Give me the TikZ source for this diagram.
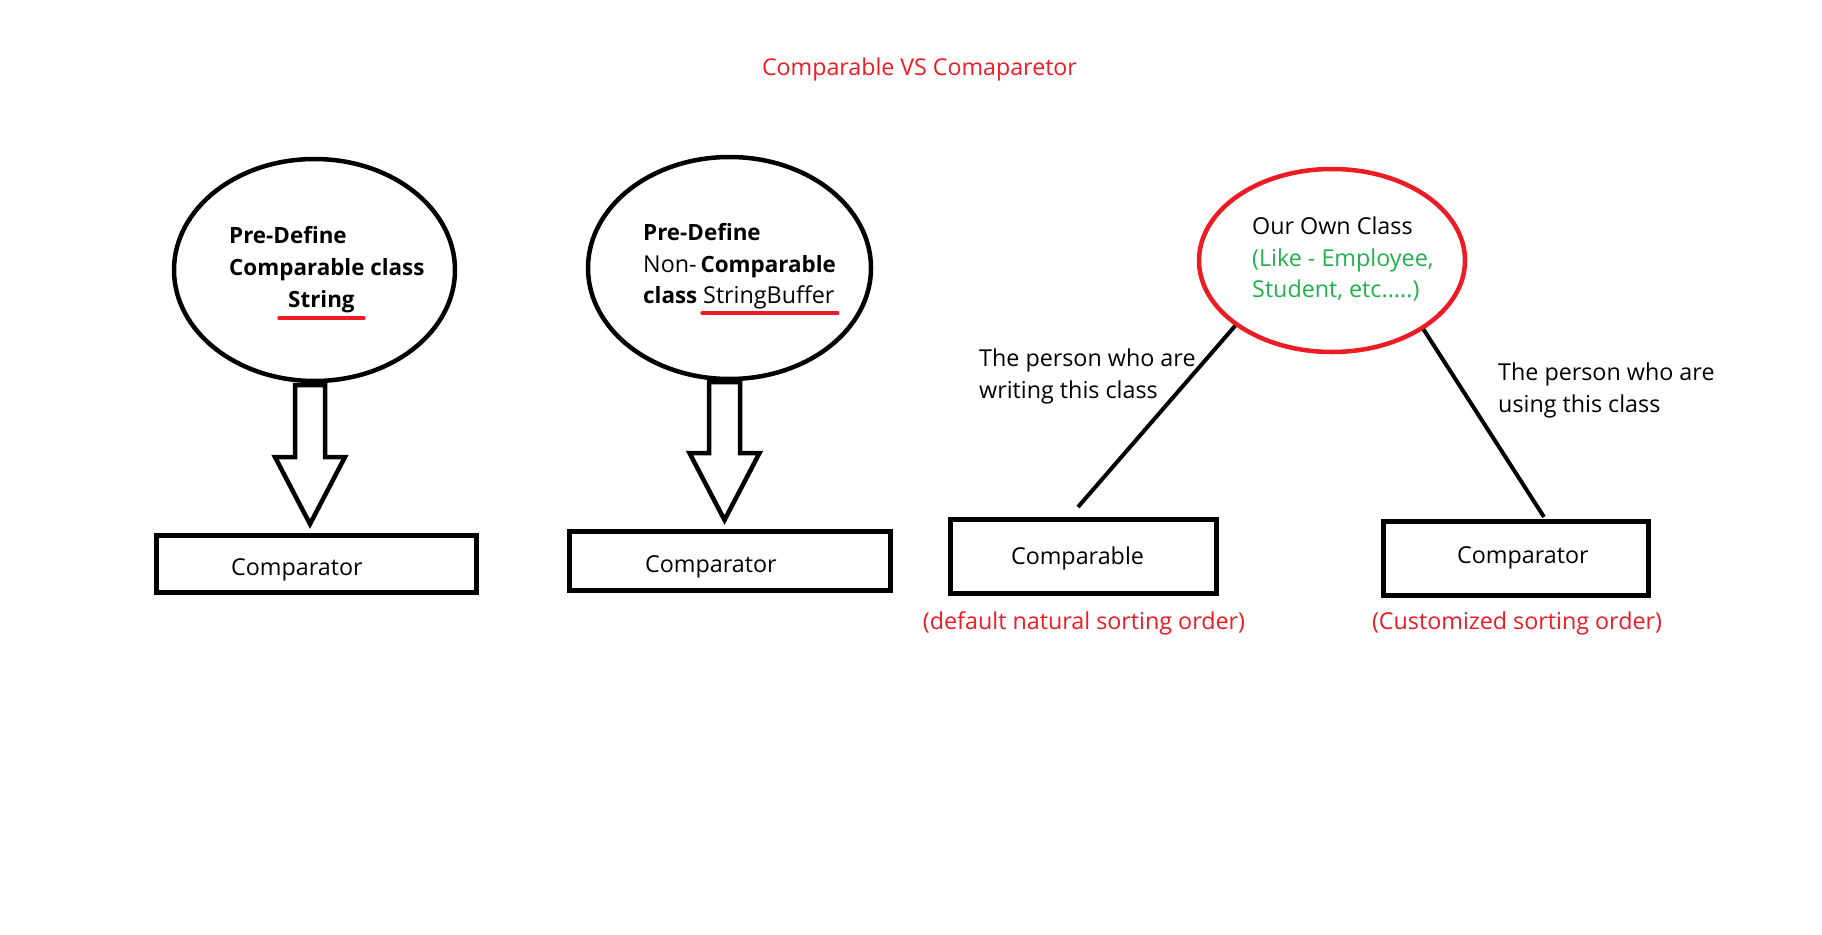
\documentclass[tikz,border=0pt]{standalone}
\usepackage{fontspec}
\setmainfont{Open Sans}
\usetikzlibrary{shapes.geometric,calc}
\definecolor{pred}{HTML}{ED1C24}
\definecolor{pgreen}{HTML}{22B14C}
\tikzset{
  txt/.style={inner sep=0pt, anchor=base west, font=\fontsize{23.3}{27}\selectfont},
  btxt/.style={txt, font=\fontsize{22.4}{26}\selectfont\bfseries},
  oval/.style={ellipse, draw, line width=4.5pt, inner sep=0pt},
  boxnode/.style={rectangle, draw, line width=5pt, inner sep=0pt},
  blockarr/.style={draw, line width=4.5pt, line join=miter},
  uline/.style={draw=pred, line width=3.5pt, line cap=round},
  conn/.style={draw, line width=4pt}
}
\begin{document}
\begin{tikzpicture}[x=1pt,y=-1pt]
\fill[white] (0,0) rectangle (1822,934);
\useasboundingbox (0,0) rectangle (1822,934);

% title
\node[txt, anchor=base, text=pred, font=\fontsize{23.2}{27}\selectfont] (title) at (919.5,75) {Comparable VS Comaparetor};

% ---------- column 1 ----------
\node[oval, minimum width=281pt, minimum height=222pt] (e1) at (314.5,270) {};
\node[btxt] (e1a) at (229,243) {Pre-Define};
\node[btxt] (e1b) at (229,275) {Comparable class};
\node[btxt] (e1c) at (288,307) {String};
\draw[uline] ($(e1c.base west)+(-9,11)$) -- ($(e1c.base east)+(9,11)$);
\draw[blockarr] (295,385) -- (295,457) -- (275,457) -- (310,524) -- (345,457) -- (325,457) -- (325,385) -- cycle;
\node[boxnode, minimum width=320pt, minimum height=57pt] (b1) at (316.5,564) {};
\node[txt] (b1t) at (231,575) {Comparator};

% ---------- column 2 ----------
\node[oval, minimum width=283pt, minimum height=222pt] (e2) at (729.5,268) {};
\node[btxt] (e2a) at (643,240) {Pre-Define};
\node[txt] (e2b) at (643,272) {Non-\,\textbf{\fontsize{22.4}{26}\selectfont Comparable}};
\node[btxt] (e2c) at (643,303) {class};
\node[txt] (e2d) at (703,303) {StringBuffer};
\draw[uline] ($(e2d.base west)+(-1,10)$) -- ($(e2d.base east)+(3,10)$);
\draw[blockarr] (709,382) -- (709,453) -- (689.5,453) -- (724.5,520) -- (759.5,453) -- (740,453) -- (740,382) -- cycle;
\node[boxnode, minimum width=321pt, minimum height=59pt] (b2) at (730,561) {};
\node[txt] (b2t) at (645,572) {Comparator};

% ---------- column 3 ----------
\node[oval, draw=pred, minimum width=266pt, minimum height=183pt] (e3) at (1332,260.5) {};
\node[txt] (e3a) at (1252,234) {Our Own Class};
\node[txt, text=pgreen] (e3b) at (1252,266) {(Like - Employee,};
\node[txt, text=pgreen] (e3c) at (1252,297) {Student, etc.....)};

\node[boxnode, minimum width=266pt, minimum height=74pt] (b3) at (1083.5,556.5) {};
\node[txt, anchor=base] (b3t) at (1077.5,564) {Comparable};
\node[txt, anchor=base, text=pred] (b3c) at (1084,629) {(default natural sorting order)};

\node[boxnode, minimum width=265pt, minimum height=74pt] (b4) at (1516,558.5) {};
\node[txt] (b4t) at (1457,563) {Comparator};
\node[txt, anchor=base, text=pred] (b4c) at (1517,629) {(Customized sorting order)};

\coordinate (l1end) at (1078,507);
\coordinate (l2end) at (1544,517);
\draw[conn] (e3.214) -- (l1end);
\draw[conn] (e3.323.6) -- (l2end);

\node[txt] (p1a) at (979,366) {The person who are};
\node[txt] (p1b) at (979,398) {writing this class};
\node[txt] (p2a) at (1498,380) {The person who are};
\node[txt] (p2b) at (1498,412) {using this class};
\end{tikzpicture}
\end{document}
